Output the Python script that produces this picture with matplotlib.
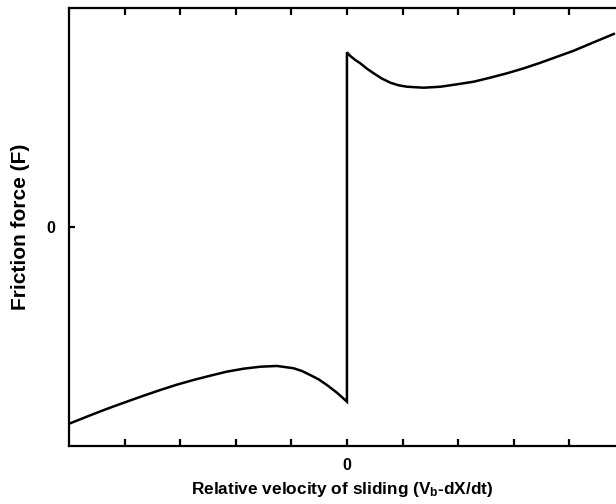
import matplotlib
matplotlib.use("Agg")
from matplotlib import pyplot as plt

plt.rcParams['font.family'] = ['Liberation Sans', 'DejaVu Sans']
plt.rcParams['font.weight'] = 'bold'
plt.rcParams['mathtext.fontset'] = 'custom'
plt.rcParams['mathtext.rm'] = 'Liberation Sans:bold'
plt.rcParams['mathtext.default'] = 'rm'

# negative sliding branch (v < 0)
v_neg = [-5.01, -4.56, -4.26, -3.96, -3.66, -3.36, -3.06, -2.76, -2.46, -2.16,
         -1.86, -1.56, -1.26, -0.96, -0.81, -0.66, -0.51, -0.36, -0.18, 0.0]
f_neg = [-1.799, -1.708, -1.650, -1.595, -1.541, -1.489, -1.440, -1.397, -1.358, -1.321,
         -1.294, -1.276, -1.269, -1.290, -1.315, -1.352, -1.391, -1.443, -1.513, -1.595]

# positive sliding branch (v > 0)
v_pos = [0.0, 0.06, 0.15, 0.24, 0.36, 0.48, 0.62, 0.78, 0.93, 1.08, 1.38,
         1.68, 1.98, 2.28, 2.58, 2.88, 3.18, 3.48, 3.78, 4.08, 4.44, 4.80]
f_pos = [1.595, 1.562, 1.525, 1.495, 1.446, 1.404, 1.358, 1.318, 1.294, 1.281, 1.272,
         1.281, 1.303, 1.327, 1.364, 1.404, 1.449, 1.500, 1.555, 1.610, 1.687, 1.763]

xticks = [-4, -3, -2, -1, 0, 1, 2, 3, 4]
xticklabels = ['', '', '', '', '0', '', '', '', '']

fig = plt.figure(figsize=(6.16, 5.04), dpi=100)
ax = fig.add_axes([69/616., 58/504., 1 - 69/616., 438/504.])

ax.plot(v_neg + v_pos, f_neg + f_pos, color='black', lw=1.8, solid_joinstyle='miter')

ax.set_xlim(-5, 4.84)
ax.set_ylim(-2, 2)

ax.spines['right'].set_visible(False)
for s in ['left', 'top', 'bottom']:
    ax.spines[s].set_linewidth(1.6)

ax.set_xticks(xticks)
ax.set_xticklabels(xticklabels, fontsize=11.5, fontweight='bold')
ax.set_yticks([0])
ax.set_yticklabels(['0'], fontsize=11.5, fontweight='bold')
ax.tick_params(axis='x', direction='in', length=5, width=1.6, top=True, pad=9)
ax.tick_params(axis='y', direction='in', length=4, width=1.6, pad=10)

ax.set_xlabel('Relative velocity of sliding (V$_b$-dX/dt)', fontsize=12.4, fontweight='bold', labelpad=5)
ax.set_ylabel('Friction force (F)', fontsize=15, fontweight='bold', labelpad=12)

fig.savefig('out.png', dpi=100)
